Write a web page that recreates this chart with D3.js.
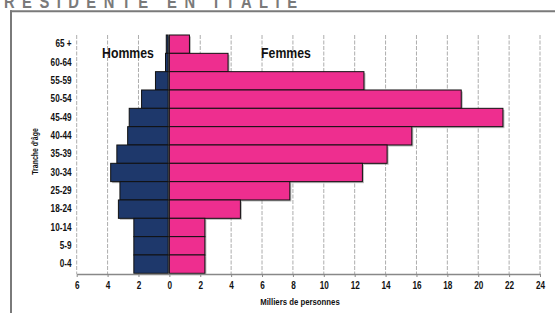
<!DOCTYPE html>
<html><head><meta charset="utf-8">
<script src="https://cdn.jsdelivr.net/npm/d3@7"></script>
<style>
html,body{margin:0;padding:0;background:#fff;}
svg{display:block;}
text{font-family:"Liberation Sans",Arial,sans-serif;font-weight:bold;}
</style></head>
<body>
<svg id="c" width="555" height="313"></svg>
<script>
const ageGroups = ["65 +","60-64","55-59","50-54","45-49","40-44","35-39","30-34","25-29","18-24","10-14","5-9","0-4"];
const hommes = [0.2,0.25,0.9,1.8,2.6,2.7,3.4,3.8,3.2,3.3,2.3,2.3,2.3];
const femmes = [1.3,3.8,12.6,18.9,21.6,15.7,14.1,12.5,7.8,4.6,2.3,2.3,2.3];
const xTicks = [-6,-4,-2,0,2,4,6,8,10,12,14,16,18,20,22,24];
const title = "RESIDENTE EN ITALIE";
const xTitle = "Milliers de personnes";
const yTitle = "Tranche d'âge";
const seriesLabels = ["Hommes","Femmes"];

const SX = 0.82; // condensed look
const svg = d3.select("#c");
const x = d3.scaleLinear().domain([-6,24]).range([76.7,540]);
const y = d3.scaleBand().domain(ageGroups).range([35,273.3]).padding(0);
const axisY = 274;

function label(px, py, txt, size, anchor, rot, fill){
  const g = svg.append("g").attr("transform",`translate(${px},${py})${rot?` rotate(${rot})`:""} scale(${SX},1)`);
  return g.append("text").attr("text-anchor",anchor||"middle").attr("font-size",size).attr("fill",fill||"#111").text(txt);
}

// frame
svg.append("line").attr("x1",10).attr("x2",555).attr("y1",11.3).attr("y2",11.3).attr("stroke","#7a7a7a").attr("stroke-width",2);
svg.append("line").attr("x1",11).attr("x2",11).attr("y1",10.3).attr("y2",313).attr("stroke","#7a7a7a").attr("stroke-width",2);

// title (cut off at top as in the reference)
label(4,7.5,title,18,"start",0,"#7a7a7a").attr("textLength",293/SX).attr("lengthAdjust","spacing");

// gridlines
svg.append("g").selectAll("line").data(xTicks.filter(d=>d!==0)).join("line")
  .attr("x1",d=>x(d)).attr("x2",d=>x(d)).attr("y1",35).attr("y2",axisY)
  .attr("stroke","#adadad").attr("stroke-width",1).attr("stroke-dasharray","4,1.5");

// shadows
const rows = ageGroups.map((g,i)=>({g,h:hommes[i],f:femmes[i]}));
const sh = svg.append("g").attr("fill","#8a8a8a").attr("opacity",0.6);
sh.selectAll("rect.sh").data(rows).join("rect")
  .attr("x",d=>x(-d.h)+1.5).attr("y",d=>y(d.g)+1.5).attr("width",d=>x(0)-x(-d.h)).attr("height",y.bandwidth());
sh.selectAll("rect.sf").data(rows).join("rect")
  .attr("x",d=>x(0)+1.5).attr("y",d=>y(d.g)+1.5).attr("width",d=>x(d.f)-x(0)).attr("height",y.bandwidth());

// bars
svg.append("g").selectAll("rect").data(rows).join("rect")
  .attr("x",d=>x(-d.h)).attr("y",d=>y(d.g)).attr("width",d=>x(0)-x(-d.h)-1.2).attr("height",y.bandwidth())
  .attr("fill","#1e386b").attr("stroke","#111").attr("stroke-width",1);
svg.append("g").selectAll("rect").data(rows).join("rect")
  .attr("x",x(0)).attr("y",d=>y(d.g)).attr("width",d=>x(d.f)-x(0)).attr("height",y.bandwidth())
  .attr("fill","#ee2e8f").attr("stroke","#111").attr("stroke-width",1);

// x axis
const xa = svg.append("g").attr("transform",`translate(0,${axisY})`)
  .call(d3.axisBottom(x).tickValues(xTicks).tickFormat(d=>Math.abs(d)).tickSize(3).tickSizeOuter(0));
xa.attr("font-family",null).attr("font-size",null);
xa.select(".domain").attr("stroke","#888").attr("stroke-width",1.5);
xa.selectAll(".tick line").attr("stroke","#888");
xa.selectAll(".tick text").attr("font-size",10).attr("fill","#111").attr("dy","0.9em").attr("transform",`scale(${SX},1)`);

// y axis
const ya = svg.append("g").attr("transform","translate(74,0)")
  .call(d3.axisLeft(y).tickSize(0).tickPadding(3));
ya.attr("font-family",null).attr("font-size",null);
ya.select(".domain").remove();
ya.selectAll(".tick text").attr("font-size",10).attr("fill","#111").attr("transform",`scale(${SX},1)`);

// axis titles
label(300,305,xTitle,9.5,"middle");
label(37.5,151.5,yTitle,8.5,"middle",-90);

// series labels
label(128,57.7,seriesLabels[0],15,"middle");
label(286,57.7,seriesLabels[1],15,"middle");
</script>
</body></html>
